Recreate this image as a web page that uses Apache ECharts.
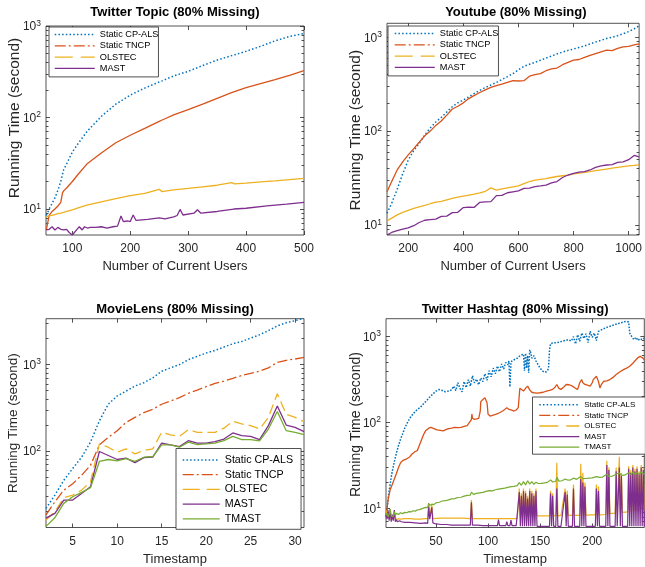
<!DOCTYPE html>
<html><head><meta charset="utf-8">
<script src="https://cdn.jsdelivr.net/npm/echarts@6/dist/echarts.min.js"></script>
<style>html,body{margin:0;padding:0;background:#fff}#c{width:645px;height:567px}</style>
</head><body><div id="c"></div>
<script>
// ---------------- DATA ----------------
// Panel 1: Twitter Topic
const topicX = [55,60,65,70,75,80,83,85,90,100,110,125,150,175,200,225,250,255,260,275,300,325,350,375,380,400,425,450,475,500];
const topicCpAls = [8.5,10,11.5,13.3,16,20,24,27,31,42,52,70,103,140,176,210,245,252,260,285,320,370,425,475,485,530,600,690,770,830];
const topicTncp = [5.9,8.5,9.4,10,10.8,11.8,15,15.8,17,20,24,31,41,53,64,76,91,94,97,107,122,140,162,187,192,212,235,260,290,325];
const topicOlstec = [8.2,8.4,8.5,8.7,8.9,9.0,9.1,9.2,9.4,9.8,10.3,11,12,13,14,14.8,16.4,15.5,15.7,16.2,16.8,17.5,18.2,19.4,18.8,19.2,19.8,20.3,21,21.6];
const topicMastX = [55,60,65,70,75,80,85,90,95,100,103,108,112,117,121,126,131,140,150,160,170,178,181,184,188,195,200,205,210,230,250,260,275,281,286,291,310,316,322,350,379,400,436,470,500];
const topicMast = [5.9,6.0,6.4,5.9,6.3,6.0,5.9,6.0,5.5,5.2,5.3,6.0,6.4,5.9,6.4,6.2,6.3,6.3,6.4,6.2,6.4,6.5,6.6,8.4,7.3,7.4,7.3,8.6,7.5,7.7,8.0,7.8,8.2,8.5,9.9,8.6,9.0,9.8,9.0,9.4,10.0,10.2,10.8,11.3,11.8];

// Panel 2: Youtube
const ytX = [123,140,160,180,200,220,240,260,280,300,320,340,360,380,400,420,440,460,480,500,520,540,560,580,600,620,640,660,680,700,720,740,760,780,800,820,840,860,880,900,920,940,960,980,1000,1020,1038];
const ytCpAls = [13.3,17,24,35,49,62,74,91,108,125,140,160,182,200,215,232,252,272,292,310,330,355,380,410,450,490,515,540,570,600,630,665,695,725,750,780,810,850,890,930,970,1000,1040,1090,1150,1230,1330];
const ytTncp = [22.6,29,38.5,47,55.7,65,76,89,100,115,128,148,172,184,200,222,240,258,275,292,305,316,330,345,342,345,385,400,410,440,460,470,510,540,570,580,610,640,670,700,730,720,760,790,800,830,850];
const ytOlstec = [11,11.8,12.8,13.6,14.3,15,15.6,16.1,16.8,17.5,17.8,18.5,19.2,19.8,20.3,20.8,21.3,22,22.8,24.8,23.5,24.2,24.8,25.4,26,27.5,29,30,30.6,31.2,32,32.8,33.4,34,35,35.6,36.3,37,37.8,38.6,39.4,40.2,41,41.8,42.5,43,43.6];
const ytMast = [7.8,8.3,8.7,9.0,9.3,9.8,10.6,11.2,11.4,11.5,12.3,12.4,13.5,13.6,15.3,15.5,15.4,17.4,17.6,17.7,20.5,20.6,22,22.5,23,24.5,24.6,25.6,26,26.5,28,29,32,34,35.5,36.5,37,38.5,41,42.5,43.5,44,46.5,47,49.5,55,53];

// Panel 3: MovieLens
const mlX = [2,3,4,5,6,7,8,9,10,11,12,13,14,15,16,17,18,19,20,21,22,23,24,25,26,27,28,29,30,31];
const mlCpAls = [21.8,31,46,63,85,127,224,348,434,494,565,617,703,838,916,1000,1140,1245,1360,1458,1595,1740,1850,2020,2210,2470,2800,3050,3220,3430];
const mlTncp = [18.3,26,35.4,42,52.6,68.4,118,144,172,215,245,279,305,348,380,415,466,508,555,605,644,692,748,789,838,916,1060,1120,1160,1213];
const mlOlstec = [16,20,29,31,35.4,44,121,111,97,106,93,101.6,106,165,154,148,177,165,165,165,184,221,206,197,180,245,461,267,245,219];
const mlMast = [16.8,19.1,27.2,27.2,32.4,38.7,99,89,80,83,73.5,84,85,124,118,113,132,124,124,129,138,162,151,148,136,197,333,200,188,168];
const mlTmast = [13.5,17,24.9,29.7,33.3,37.7,76,80,77,82,76,85,86.6,118,118,111,127,119,121,124,132,148,136,136,131,180,287,172,165,155];

// Panel 4: Twitter Hashtag ([timestamp, seconds])
const hashCpAls = [[2,8],[3,10],[4,13],[5,16],[6,19],[7,23],[8,27],[10,35],[12,44],[14,54],[16,64],[18,74],[20,86],[23,102],[26,118],[29,130],[32,142],[35,150],[38,165],[41,180],[44,198],[47,215],[50,232],[53,242],[56,236],[59,228],[62,232],[65,240],[67,265],[69,235],[71,290],[73,250],[75,228],[77,300],[79,255],[81,315],[83,265],[85,350],[87,290],[89,320],[91,275],[93,330],[95,300],[97,370],[99,310],[101,400],[103,340],[105,430],[107,370],[109,455],[111,390],[113,480],[115,420],[117,500],[119,470],[120,520],[121,260],[122,510],[124,530],[126,545],[128,560],[130,590],[132,610],[134,625],[135,400],[136,640],[137,430],[138,600],[139,380],[140,700],[141,650],[142,560],[144,600],[146,520],[148,470],[150,430],[152,400],[154,385],[156,390],[158,420],[159,700],[160,830],[162,840],[165,850],[168,860],[171,880],[174,900],[177,920],[180,890],[182,1000],[184,820],[186,1050],[188,880],[190,1100],[192,950],[194,1080],[196,850],[198,1150],[200,980],[202,1100],[204,900],[206,1150],[210,1220],[214,1280],[218,1330],[222,1380],[226,1430],[230,1480],[233,1500],[235,1480],[236,1100],[238,1000],[240,920],[242,980],[244,900],[246,950],[248,920],[250,960]];
const hashTncp = [[2,8],[3,10],[4,12.5],[5,14.5],[6,16.5],[8,19],[10,22],[12,25.5],[14,30],[16,34],[18,36],[20,37],[22,37.8],[25,40],[27,43],[30,46],[32,47],[33.5,46],[35,58],[38,72],[40,80],[43,86],[45,88],[48,85],[51,82],[54,81],[57,80],[60,83],[62,85],[65,86],[68,88],[71,87],[74,88],[77,90],[80,92],[82,100],[84,108],[84.5,125],[85,112],[87,109],[89,110],[91,112],[92.5,136],[93,175],[95,185],[97,194],[99,170],[100,125],[102,119],[105,122],[108,125],[111,130],[114,136],[116,142],[118,149],[120,142],[122,140],[125,136],[127,140],[129,149],[130,150],[130.5,250],[132,240],[134,232],[136,250],[138,265],[140,240],[142,225],[144,222],[147,220],[150,222],[153,225],[156,232],[159,236],[162,243],[164,255],[166,277],[168,250],[170,243],[173,260],[175,277],[178,275],[181,265],[184,250],[186,243],[188,290],[189.8,316],[191,290],[193,277],[196,270],[198,265],[200,290],[201,316],[204,345],[206,300],[207.4,253],[209,280],[211,302],[214,305],[217,316],[220,335],[223,361],[226,385],[230,413],[233,430],[236,451],[239,490],[242,538],[244,570],[246,588],[248,570],[250,538]];
const hashOlstec = [[2,9.5],[3,8],[4,9],[5,7.6],[6,9.2],[7,7.4],[8,8.2],[9,7.3],[10,8.5],[12,7.4],[14,7.6],[16,7.5],[20,7.6],[25,7.6],[30,7.5],[35,7.5],[40,7.6],[42,7.6],[43,11],[44,8],[45,7.8],[46,11],[47,7.6],[55,7.7],[65,7.7],[75,7.7],[83,7.6],[84,12.5],[85,7.6],[95,7.6],[105,7.6],[115,7.6],[125,7.6],[128,7.6],[130,17],[131,8],[132,15],[133,8],[134,17],[135,8],[136,16],[137,8],[138,14],[139,8],[140,17],[141,8],[142,16],[143,8],[144,15],[145,8],[146,17],[147,8.2],[155,8.2],[159,8.2],[160,16],[161,8.2],[162,15],[163,8.2],[165,8.2],[166,34],[167,8.2],[170,8.3],[174,17],[175,8.3],[176,16],[177,8.3],[181,8.3],[182,19],[183,8.3],[188,8.3],[189,33],[190,8.3],[191,26],[192,8.3],[193,20],[194,8.3],[198,8.4],[203,8.4],[204,19],[205,8.4],[206,18],[207,8.4],[213,8.5],[214,36],[215,8.6],[216,30],[217,8.7],[222,8.8],[223,30],[224,8.9],[226,40],[227,9],[228,26],[229,9],[234,9.1],[235,31],[236,9.1],[237,28],[238,9.2],[239,32],[240,9.2],[241,29],[242,9.2],[243,31],[244,9.3],[245,27],[246,9.3],[247,32],[248,9.4],[249,30],[250,9.5]];
const hashMast = [[2,8.5],[3,7.5],[4,9.5],[5,7.2],[6,9.8],[7,7],[8,8.5],[9,7.2],[10,9.6],[11,7.0],[12,7.4],[13,7.0],[15,7.2],[17,7.0],[20,6.9],[25,6.9],[30,6.8],[35,6.7],[40,6.8],[42,6.7],[43,10.5],[44,7.5],[45,7.2],[46,10.3],[47,6.8],[50,6.6],[55,6.5],[60,6.5],[65,6.4],[70,6.4],[75,6.4],[80,6.4],[83,6.4],[84,11.8],[85,6.4],[90,6.4],[95,6.3],[100,6.3],[105,6.3],[109,6.3],[110,7.4],[111,6.3],[117,6.3],[118,7.0],[119,6.3],[121,6.3],[122,7.3],[123,6.3],[127,6.3],[128,6.2],[130,15.5],[131,6.2],[132,14],[133,6.2],[134,16],[135,6.2],[136,15],[137,6.2],[138,13],[139,6.2],[140,16],[141,6.2],[142,15],[143,6.2],[144,14],[145,6.2],[146,16],[147,6.2],[150,6.2],[155,6.2],[159,6.2],[160,15],[161,6.2],[162,14],[163,6.2],[165,6.2],[166,17],[167,6.2],[170,6.2],[174,15.5],[175,6.2],[176,14.5],[177,6.2],[181,6.2],[182,17],[183,6.2],[188,6.2],[189,22],[190,6.2],[191,20],[192,6.2],[193,18],[194,6.2],[198,6.2],[203,6.2],[204,17],[205,6.2],[206,16],[207,6.2],[213,6.2],[214,32],[215,6.2],[216,28],[217,6.2],[222,6.2],[223,27],[224,6.2],[226,30],[227,6.2],[228,24],[229,6.2],[234,6.2],[235,29],[236,6.2],[237,26],[238,6.2],[239,30],[240,6.2],[241,27],[242,6.2],[243,29],[244,6.2],[245,25],[246,6.2],[247,30],[248,6.2],[249,28],[250,6.2]];
const hashTmast = [[2,8.3],[3,8.8],[4,8],[5,8.5],[6,9.8],[7,8.2],[8,8.6],[9,8.0],[10,9.2],[11,8.3],[12,8.8],[14,8.5],[16,8.9],[18,8.7],[20,9.0],[22,8.9],[24,9.2],[26,9.1],[28,9.4],[30,9.3],[32,9.6],[34,9.7],[36,9.9],[38,10.1],[40,10.3],[42,10.2],[43,11.5],[44,10.8],[46,11.2],[48,11.1],[50,11.6],[53,11.8],[56,12.2],[59,12.3],[62,12.6],[65,12.9],[68,13.0],[71,13.4],[74,13.5],[77,13.9],[80,14.2],[83,14.3],[84,15.5],[86,14.6],[89,15],[92,15.2],[95,15.4],[98,15.8],[101,16.1],[104,16.0],[107,16.5],[110,16.8],[113,17],[116,17.2],[119,17.6],[122,17.9],[125,18.1],[128,18.4],[130,20],[132,18.6],[134,20.5],[136,18.8],[138,21],[140,19.2],[142,20.5],[144,19.1],[146,20.2],[148,19.5],[151,19.6],[154,19.8],[157,20.1],[160,21.5],[162,20.3],[165,20.6],[166,23],[168,20.8],[171,21],[174,22],[176,21.5],[179,21.4],[182,22.5],[185,21.8],[189,23.5],[191,22.2],[194,22.3],[197,22.5],[200,22.7],[204,23.5],[207,23],[210,23.2],[214,25],[216,23.6],[219,23.7],[223,25],[226,26],[228,24.3],[231,24.4],[235,26],[237,24.8],[239,26.5],[241,25],[243,26],[245,25.2],[247,26.5],[249,25.3],[250,25.4]];

// Tick labels
const topicXTicks = [100,200,300,400,500];
const ytXTicks = [200,400,600,800,1000];
const mlXTicks = [5,10,15,20,25,30];
const hashXTicks = [50,100,150,200];

// ---------------- STYLE / LAYOUT ----------------
const FONT = '"Liberation Sans", Arial, Helvetica, sans-serif';
const INK = '#262626';
const COL = {'Static CP-ALS':'#0072BD','Static TNCP':'#D95319','OLSTEC':'#EDB120','MAST':'#7E2F8E','TMAST':'#77AC30'};
const DOT = [1.5,2.2];
const DOT_DENSE = [1.6,1.5];
const NOCOL = 'rgba(0,0,0,0)';

function zip(xs, ys){ return xs.map((x,i)=>[x, ys[i]]); }
function majors(min,max){const o=[];for(let e=-1;e<=5;e++){const v=Math.pow(10,e);if(v>=min&&v<=max)o.push(v);}return o;}
function minors(min,max){const o=[];for(let e=-1;e<=5;e++)for(let m=2;m<=9;m++){const v=m*Math.pow(10,e);if(v>min&&v<max)o.push(v);}return o;}

const panels = [
  {title:'Twitter Topic (80% Missing)', grid:{left:46,top:26,width:258,height:209}, x:[54.5,500], y:[5.2,1002], xt:topicXTicks,
   xName:'Number of Current Users', xGap:25, yGap:23.5, yFont:15.5, yPad:[0,0,0,25], titleTop:6,
   series:[['Static CP-ALS',zip(topicX,topicCpAls),DOT,1.5],['Static TNCP',zip(topicX,topicTncp),'solid',1.3],['OLSTEC',zip(topicX,topicOlstec),'solid',1.3],['MAST',zip(topicMastX,topicMast),'solid',1.3]],
   legend:{left:49,top:27,padding:[3,0,4,5],itemWidth:40,itemHeight:10,itemGap:2.3,fontSize:9.2,dash:[18,8]}},
  {title:'Youtube (80% Missing)', grid:{left:387,top:23.3,width:257.6,height:211.7}, x:[123,1038], y:[7.8,1410], xt:ytXTicks,
   xName:'Number of Current Users', xGap:25, yGap:23.4, yFont:15.5, yPad:[0,2,0,0], titleTop:6,
   series:[['Static CP-ALS',zip(ytX,ytCpAls),DOT,1.5],['Static TNCP',zip(ytX,ytTncp),'solid',1.3],['OLSTEC',zip(ytX,ytOlstec),'solid',1.3],['MAST',zip(ytX,ytMast),'solid',1.3]],
   legend:{left:388,top:26,padding:[3,0,4,6],itemWidth:40,itemHeight:10,itemGap:2.3,fontSize:9.2,dash:[18,8]}},
  {title:'MovieLens (80% Missing)', grid:{left:46,top:318.7,width:258,height:211}, x:[2,31], y:[13.1,3390], xt:mlXTicks,
   xName:'Timestamp', xGap:25.5, yGap:26, yFont:13.5, yPad:0, titleTop:302.5,
   series:[['Static CP-ALS',zip(mlX,mlCpAls),DOT,1.5],['Static TNCP',zip(mlX,mlTncp),[10,3,2,3],1.3],['OLSTEC',zip(mlX,mlOlstec),[10,5],1.3],['MAST',zip(mlX,mlMast),'solid',1.3],['TMAST',zip(mlX,mlTmast),'solid',1.3]],
   legend:{left:176,top:448.5,padding:[6,8,5,6],itemWidth:37,itemHeight:11,itemGap:3.7,fontSize:10.7,dash:[17,7]}},
  {title:'Twitter Hashtag (80% Missing)', grid:{left:386,top:318.7,width:258.3,height:210.6}, x:[2,250], y:[6.0,1615], xt:hashXTicks,
   xName:'Timestamp', xGap:25.5, yGap:23.2, yFont:14, yPad:[0,3,0,0], titleTop:302.5,
   series:[['Static CP-ALS',hashCpAls,DOT_DENSE,1.5],['Static TNCP',hashTncp,'solid',1.3],['OLSTEC',hashOlstec,'solid',1.2],['MAST',hashMast,'solid',1.2],['TMAST',hashTmast,'solid',1.2]],
   legend:{left:532.5,top:397,padding:[3.8,10,3,6],itemWidth:40,itemHeight:9,itemGap:2.6,fontSize:8,dash:[19,8]}}
];

const option = {animation:false, backgroundColor:'#fff', title:[], grid:[], xAxis:[], yAxis:[], legend:[], series:[]};

panels.forEach((p,i)=>{
  const g = p.grid;
  option.title.push({text:p.title, left:g.left+g.width/2, top:p.titleTop, textAlign:'center', padding:0,
    textStyle:{fontFamily:FONT, fontSize:13, fontWeight:'bold', color:'#000'}});
  option.grid.push(Object.assign({show:true, borderColor:INK, borderWidth:0.8, backgroundColor:'#fff', containLabel:false}, g));
  const tickStyle = {color:INK, width:0.8};
  ['bottom','top'].forEach(pos=>{
    option.xAxis.push({type:'value', gridIndex:i, position:pos, min:p.x[0], max:p.x[1],
      axisLine:{show:false}, splitLine:{show:false},
      axisTick:{show:true, inside:true, length:4, lineStyle:tickStyle, customValues:p.xt},
      axisLabel: pos==='bottom' ? {show:true, customValues:p.xt, margin:8, fontFamily:FONT, fontSize:12, color:INK, formatter:v=>String(v)} : {show:false},
      name: pos==='bottom' ? p.xName : '', nameLocation:'middle', nameGap:p.xGap, nameMoveOverlap:false,
      nameTextStyle:{fontFamily:FONT, fontSize:13, color:INK}});
  });
  const maj = majors(p.y[0],p.y[1]), mnr = minors(p.y[0],p.y[1]);
  ['left','right'].forEach(pos=>{
    option.yAxis.push({type:'log', logBase:10, gridIndex:i, position:pos, min:p.y[0], max:p.y[1],
      axisLine:{show:false}, splitLine:{show:false},
      axisTick:{show:true, inside:true, length:4, lineStyle:tickStyle, customValues:maj},
      axisLabel: pos==='left' ? {show:true, customValues:maj, margin:5,
        formatter:v=>'{b|10}{s|'+Math.round(Math.log10(v))+'}',
        rich:{b:{fontFamily:FONT,fontSize:12,color:INK,padding:[2,0,0,0],verticalAlign:'bottom'},
              s:{fontFamily:FONT,fontSize:8.5,color:INK,verticalAlign:'top'}}} : {show:false},
      name: pos==='left' ? 'Running Time (second)' : '', nameLocation:'middle', nameGap:p.yGap, nameMoveOverlap:false,
      nameTextStyle:{fontFamily:FONT, fontSize:p.yFont, color:INK, padding:p.yPad}});
    option.yAxis.push({type:'log', logBase:10, gridIndex:i, position:pos, min:p.y[0], max:p.y[1],
      axisLine:{show:false}, splitLine:{show:false},
      axisTick:{show:true, inside:true, length:2.5, lineStyle:tickStyle, customValues:mnr},
      axisLabel:{show:false}});
  });
  p.series.forEach(s=>{
    option.series.push({type:'line', name:s[0], xAxisIndex:2*i, yAxisIndex:4*i, data:s[1],
      symbol:'none', showSymbol:false, smooth:false, clip:true,
      lineStyle:{color:COL[s[0]], width:s[3], type:s[2]}, itemStyle:{color:COL[s[0]]}, z:2});
  });
  const L = p.legend;
  const legStyles = {'Static CP-ALS':{type:DOT,width:1.5},'Static TNCP':{type:[11,3,2,3],width:1.3},'OLSTEC':{type:L.dash,width:1.4},'MAST':{type:'solid',width:1.3},'TMAST':{type:'solid',width:1.3}};
  option.legend.push({show:true, orient:'vertical', left:L.left, top:L.top, padding:L.padding, itemWidth:L.itemWidth, itemHeight:L.itemHeight,
    itemGap:L.itemGap, borderColor:INK, borderWidth:0.8, backgroundColor:'#fff', selectedMode:false, z:10,
    textStyle:{fontFamily:FONT, fontSize:L.fontSize, color:'#000'},
    data:p.series.map(s=>({name:s[0], lineStyle:Object.assign({color:COL[s[0]]}, legStyles[s[0]]),
      itemStyle:{color:NOCOL, borderColor:NOCOL, borderWidth:0, opacity:0}}))});
});

const chart = echarts.init(document.getElementById('c'), null, {renderer:'canvas'});
chart.setOption(option);
</script></body></html>
